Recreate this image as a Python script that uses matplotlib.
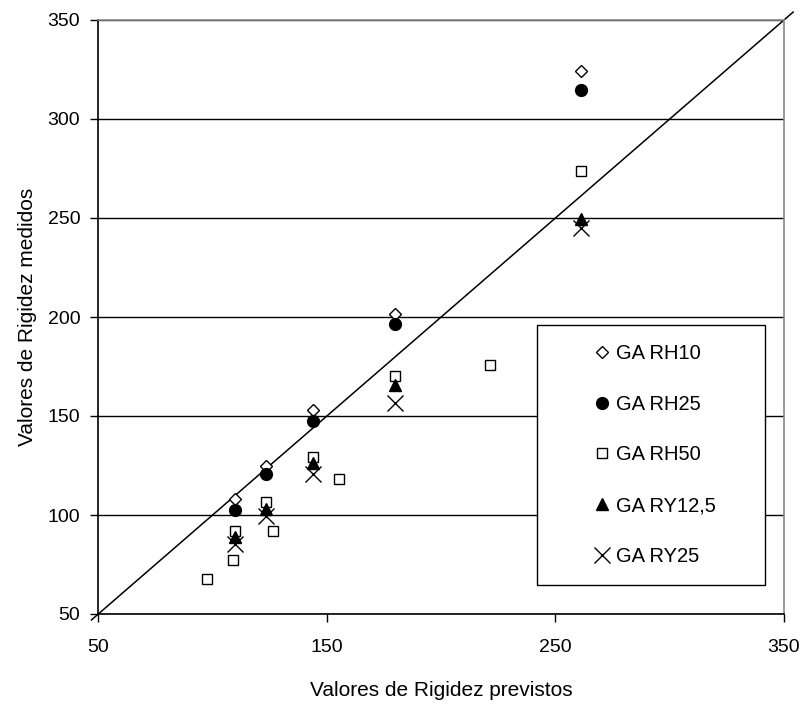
import matplotlib.pyplot as plt
from matplotlib.patches import Rectangle

plt.rcParams['font.family'] = ['Liberation Sans', 'DejaVu Sans']

# rigidity values: predicted (x) vs measured (y)
x_main = [110, 123.5, 144, 180, 261]
rh10 = [108, 125, 153, 201.5, 324]
rh25 = [102.5, 120.5, 147.5, 196.5, 314.5]
x_rh50 = [97.5, 109, 110, 123.5, 126.5, 144, 155.5, 180, 221.5, 261]
rh50 = [67.5, 77.5, 92, 106.5, 92, 129.5, 118, 170, 176, 273.5]
ry12 = [89, 103, 126.5, 165.5, 249.5]
ry25 = [85.5, 99.5, 120.5, 156.5, 245]

x_ticks = [50, 150, 250, 350]
y_ticks = [50, 100, 150, 200, 250, 300, 350]
line_ends = [47, 354]

W, H = 804, 706
fig = plt.figure(figsize=(W / 100, H / 100), dpi=100)
ax = fig.add_axes([98.3 / W, 1 - 614 / H, (784 - 98.3) / W, (614 - 20) / H])

tick_fs = 14
label_fs = 15
leg_fs = 14.5

ax.plot(line_ends, line_ends, color='black', lw=1.1, clip_on=False, zorder=2)

ax.plot(x_main, rh10, 'D', ms=6.3, mfc='white', mec='black', mew=1, label='GA RH10', zorder=4)
ax.plot(x_main, rh25, 'o', ms=8.5, mfc='black', mec='black', label='GA RH25', zorder=4)
ax.plot(x_rh50, rh50, 's', ms=7.5, mfc='white', mec='black', mew=1, label='GA RH50', zorder=4)
ax.plot(x_main, ry12, '^', ms=9, mfc='black', mec='black', label='GA RY12,5', zorder=4)
ax.plot(x_main, ry25, 'x', ms=11, mec='black', mew=1, label='GA RY25', zorder=4)

ax.set_xlim(50, 350)
ax.set_ylim(50, 350)
ax.set_xticks(x_ticks)
ax.set_yticks(y_ticks)
ax.tick_params(direction='out', length=6, width=1, labelsize=tick_fs, colors='black')
ax.tick_params(axis='y', pad=7)
ax.tick_params(axis='x', pad=12)
ax.yaxis.grid(True, color='black', lw=1)
ax.set_axisbelow(True)

for s in ['left', 'bottom']:
    ax.spines[s].set_color('black')
    ax.spines[s].set_linewidth(1.2)
for s in ['top', 'right']:
    ax.spines[s].set_color('#888888')
    ax.spines[s].set_linewidth(1.2)

ax.set_xlabel('Valores de Rigidez previstos', fontsize=label_fs)
ax.set_ylabel('Valores de Rigidez medidos', fontsize=label_fs)
ax.xaxis.set_label_coords(0.5, -0.112)
ax.yaxis.set_label_coords(-0.09, 0.5)

# legend box
bx0, by0, bx1, by1 = 537, 325, 765, 585
box = Rectangle((bx0 / W, 1 - by1 / H), (bx1 - bx0) / W, (by1 - by0) / H,
                transform=fig.transFigure, facecolor='white', edgecolor='black',
                lw=1, zorder=5, clip_on=False)
ax.add_patch(box)
leg = ax.legend(loc='center', bbox_to_anchor=((bx0 + bx1) / 2 / W + 4 / W, 1 - (by0 + by1) / 2 / H),
                bbox_transform=fig.transFigure, frameon=False, fontsize=leg_fs,
                handlelength=0.8, handletextpad=0.3, labelspacing=1.58, numpoints=1)
leg.set_zorder(6)

fig.savefig('out.png', dpi=100)
